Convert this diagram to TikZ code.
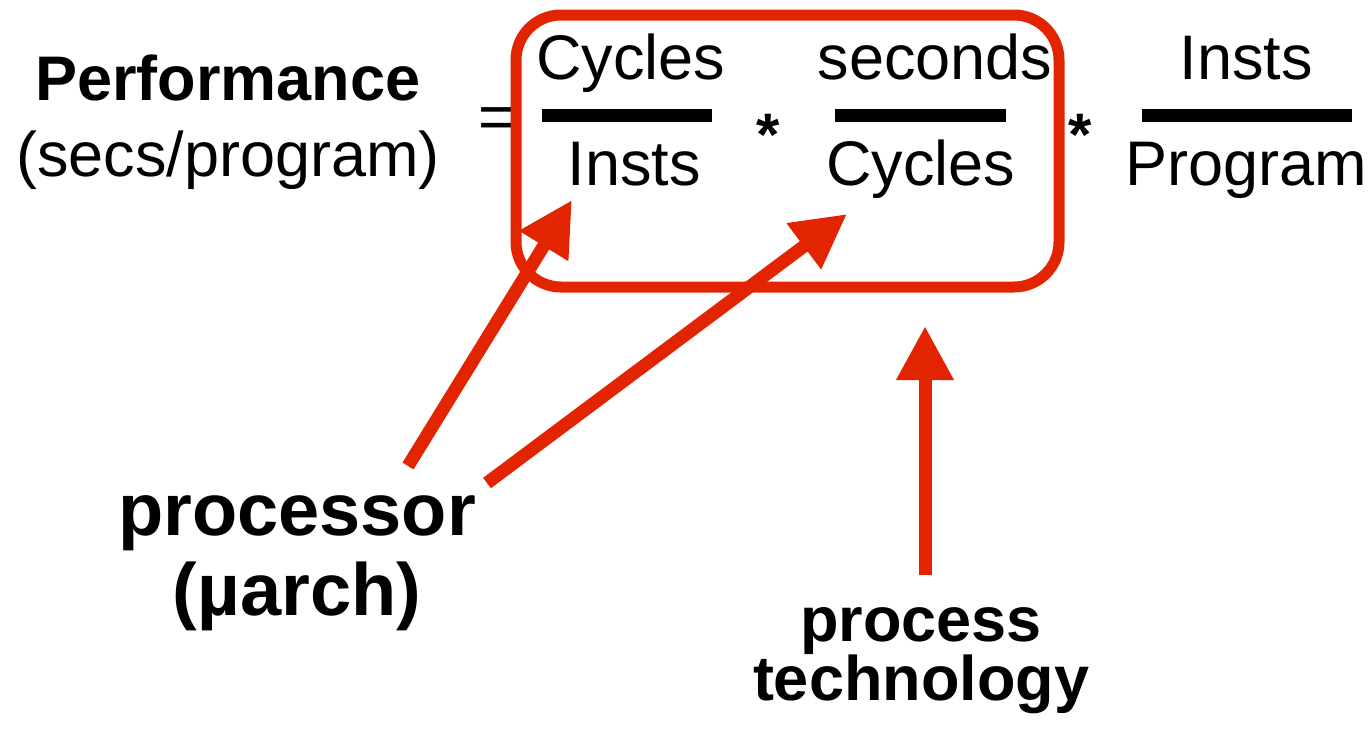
\documentclass[tikz,border=0pt]{standalone}
\usepackage{fontspec}
\setmainfont{Liberation Sans}
\usetikzlibrary{arrows.meta}
\definecolor{hilite}{RGB}{227,36,0}
\begin{document}
\begin{tikzpicture}[x=1pt,y=-1pt,
  txt/.style={inner sep=0pt,anchor=base,font=\fontsize{63}{63}\selectfont},
  btxt/.style={inner sep=0pt,anchor=base,font=\fontsize{63}{63}\selectfont\bfseries},
  big/.style={inner sep=0pt,anchor=base,font=\fontsize{74}{74}\selectfont\bfseries},
  times/.style={inner sep=0pt,anchor=base,font=\fontsize{60}{60}\selectfont\bfseries},
  fracbar/.style={line width=13pt},
  arr/.style={hilite,line width=13pt,-{Triangle[length=54pt,width=54pt]}}]
\useasboundingbox (0,0) rectangle (1372,732);

% left-hand side
\node[btxt] (perf) at (228,100) {Performance};
\node[txt] (perfsub) at (228,176) {(secs/program)};
\node[txt] (eq) at (497,138) {=};

% fraction 1
\node[txt] (num1) at (631,79) {Cycles};
\node[txt] (den1) at (634,185) {Insts};
\draw[fracbar] (542,115) -- (712,115);
\node[times] (mul1) at (768,155) {*};

% fraction 2
\node[txt] (num2) at (935,79) {seconds};
\node[txt] (den2) at (921,185) {Cycles};
\draw[fracbar] (835,115) -- (1006,115);
\node[times] (mul2) at (1080,155) {*};

% fraction 3
\node[txt] (num3) at (1246,79) {Insts};
\node[txt] (den3) at (1246,185) {Program};
\draw[fracbar] (1142,115) -- (1352,115);

% highlight around the first two factors
\draw[hilite,line width=11pt,rounded corners=45pt] (516,15) rectangle (1059,287);

% labels
\node[big] (proc) at (297,535) {processor};
\node[big] (march) at (297,615) {(µarch)};
\node[btxt] (ptech1) at (921,641) {process};
\node[btxt] (ptech2) at (921,700) {technology};

% arrows
\coordinate (a1s) at (408,466);
\coordinate (a1e) at (572,200);
\coordinate (a2s) at (487,483);
\coordinate (a2e) at (847,214);
\coordinate (a3s) at (925,575);
\coordinate (a3e) at (925,326);
\draw[arr] (a1s) -- (a1e);
\draw[arr] (a2s) -- (a2e);
\draw[arr] (a3s) -- (a3e);
\end{tikzpicture}
\end{document}
